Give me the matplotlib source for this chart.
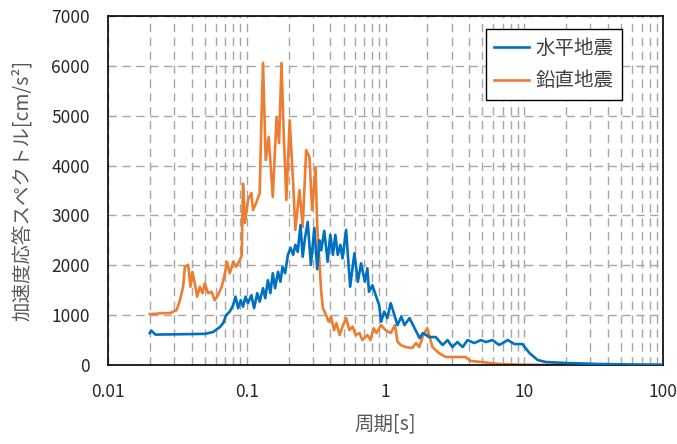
"""
Acceleration response spectrum: horizontal vs vertical ground motion.
Saves out.png (677x444).
"""
import matplotlib
matplotlib.use("Agg")
import matplotlib.pyplot as plt
from matplotlib.ticker import FixedLocator, NullFormatter

plt.rcParams["font.family"] = ["Noto Sans CJK JP", "DejaVu Sans"]

# ---------------------------------------------------------------------------
# Data
# ---------------------------------------------------------------------------
period_h = [0.020, 0.0205, 0.022, 0.030, 0.040, 0.050, 0.057, 0.064, 0.0676,
            0.071, 0.0754, 0.0797, 0.083, 0.0866, 0.0905, 0.094, 0.098, 0.102,
            0.108, 0.113, 0.119, 0.124, 0.131, 0.136, 0.142, 0.148, 0.154,
            0.160, 0.168, 0.175, 0.181, 0.189, 0.198, 0.207, 0.216, 0.224,
            0.233, 0.244, 0.253, 0.263, 0.275, 0.290, 0.307, 0.322, 0.335,
            0.344, 0.362, 0.383, 0.400, 0.418, 0.435, 0.453, 0.473, 0.490,
            0.520, 0.556, 0.597, 0.632, 0.667, 0.710, 0.740, 0.760, 0.805,
            0.850, 0.900, 0.930, 0.980, 1.03, 1.09, 1.16, 1.22, 1.30, 1.37,
            1.49, 1.62, 1.76, 1.86, 2.07, 2.30, 2.58, 2.80, 3.03, 3.30, 3.60,
            3.90, 4.36, 4.87, 5.30, 5.90, 6.60, 7.60, 8.50, 9.70, 10.9, 12.5,
            14.3, 20.0, 34.0, 60.0, 100.0]
accel_h = [640, 690, 610, 615, 620, 625, 660, 760, 840,
           1000, 1070, 1200, 1370, 1140, 1300, 1170, 1370, 1240,
           1400, 1140, 1440, 1270, 1540, 1340, 1700, 1440, 1840,
           1540, 1870, 1670, 1970, 1840, 2210, 2350, 2210, 2410,
           2270, 2810, 2170, 2550, 2870, 2010, 2750, 1920, 2500,
           2300, 2690, 2070, 2610, 2210, 2610, 2210, 2410, 2140,
           2710, 1570, 2240, 1670, 2040, 1670, 1940, 1470, 1600,
           1400, 1200, 870, 1070, 940, 1240, 1000, 800, 970, 800,
           940, 740, 540, 640, 560, 560, 400, 500, 360, 460, 360,
           500, 440, 500, 460, 500, 400, 500, 420, 420, 240, 100,
           60, 40, 20, 10, 5]

period_v = [0.020, 0.025, 0.028, 0.0312, 0.033, 0.0348, 0.0358, 0.0378,
            0.0393, 0.0406, 0.0422, 0.0439, 0.0459, 0.048, 0.0498, 0.0527,
            0.0557, 0.0588, 0.062, 0.066, 0.0696, 0.0722, 0.0754, 0.080,
            0.084, 0.089, 0.092, 0.094, 0.097, 0.102, 0.108, 0.111, 0.117,
            0.124, 0.127, 0.131, 0.137, 0.144, 0.154, 0.164, 0.171, 0.178,
            0.185, 0.193, 0.204, 0.216, 0.224, 0.240, 0.253, 0.268, 0.283,
            0.296, 0.313, 0.322, 0.335, 0.344, 0.354, 0.373, 0.389, 0.405,
            0.426, 0.443, 0.467, 0.490, 0.520, 0.550, 0.580, 0.610, 0.650,
            0.680, 0.740, 0.780, 0.820, 0.860, 0.930, 1.00, 1.09, 1.17, 1.22,
            1.29, 1.40, 1.56, 1.66, 1.75, 1.87, 2.00, 2.18, 2.43, 2.71, 3.18,
            3.77, 4.10, 4.98, 6.60, 10.0, 20.0, 50.0, 100.0]
accel_v = [1020, 1040, 1040, 1100, 1300, 1570, 1970, 2010,
           1570, 1870, 1640, 1370, 1570, 1440, 1640, 1440,
           1470, 1300, 1400, 1570, 1840, 2070, 1840, 2070,
           1970, 2100, 2200, 3640, 2850, 3310, 3450, 3110, 3250,
           3450, 4710, 6060, 4110, 4570, 3370, 4970, 4450, 6060,
           4570, 3310, 4910, 3650, 2710, 3510, 2770, 4310, 4170,
           3110, 3970, 2800, 2010, 1470, 1140, 1000, 870, 970,
           700, 840, 600, 770, 940, 700, 770, 600, 640,
           500, 600, 500, 740, 640, 800, 700, 640, 800, 470,
           400, 360, 340, 440, 360, 600, 740, 360, 240, 160, 160,
           160, 80, 60, 20, 5, 2, 1, 0]

x_major = [0.01, 0.1, 1, 10, 100]
x_major_labels = ["0.01", "0.1", "1", "10", "100"]
y_ticks = [0, 1000, 2000, 3000, 4000, 5000, 6000, 7000]

series_labels = ["水平地震", "鉛直地震"]
BLUE = "#0070C0"
ORANGE = "#ED7D31"
GRID = "#A6A6A6"
TEXT = "#595959"


def main():
    fig = plt.figure(figsize=(6.77, 4.44), dpi=100)
    ax = fig.add_axes([108 / 677, 79 / 444, 555 / 677, 349 / 444])

    ax.plot(period_h, accel_h, color=BLUE, lw=1.9, label=series_labels[0], zorder=3)
    ax.plot(period_v, accel_v, color=ORANGE, lw=1.9, label=series_labels[1], zorder=2)

    ax.set_xscale("log")
    ax.set_xlim(0.01, 100)
    ax.set_ylim(0, 7000)

    minors = [m * 10.0 ** e for e in range(-2, 2) for m in range(2, 10)]
    ax.xaxis.set_major_locator(FixedLocator(x_major))
    ax.xaxis.set_minor_locator(FixedLocator(minors))
    ax.xaxis.set_minor_formatter(NullFormatter())
    ax.set_xticklabels(x_major_labels)
    ax.set_yticks(y_ticks)
    ax.set_yticklabels([str(v) for v in y_ticks])

    grid_kw = dict(color=GRID, lw=1.0, linestyle=(0, (6, 4)))
    ax.grid(True, which="major", axis="both", **grid_kw)
    ax.grid(True, which="minor", axis="x", **grid_kw)
    ax.set_axisbelow(True)

    ax.tick_params(which="both", length=0, labelsize=12.5, colors="#262626")
    ax.tick_params(axis="x", pad=13)
    ax.tick_params(axis="y", pad=13)
    for s in ax.spines.values():
        s.set_color("black")
        s.set_linewidth(1.2)

    ax.set_xlabel("周期[s]", fontsize=14, color=TEXT)
    ax.set_ylabel("加速度応答スペクトル[cm/s²]", fontsize=14, color=TEXT)
    ax.xaxis.set_label_coords(0.5, -0.14)
    ax.yaxis.set_label_coords(-0.135, 0.5)

    leg = ax.legend(loc="upper right", bbox_to_anchor=(0.926, 0.963),
                    borderaxespad=0, fontsize=14, fancybox=False, framealpha=1,
                    edgecolor="black", handlelength=1.8, handletextpad=0.3,
                    borderpad=0.45, labelspacing=0.6)
    leg.get_frame().set_linewidth(1.0)
    for t in leg.get_texts():
        t.set_color("#404040")

    fig.savefig("out.png", dpi=100)
    plt.close(fig)


if __name__ == "__main__":
    main()
